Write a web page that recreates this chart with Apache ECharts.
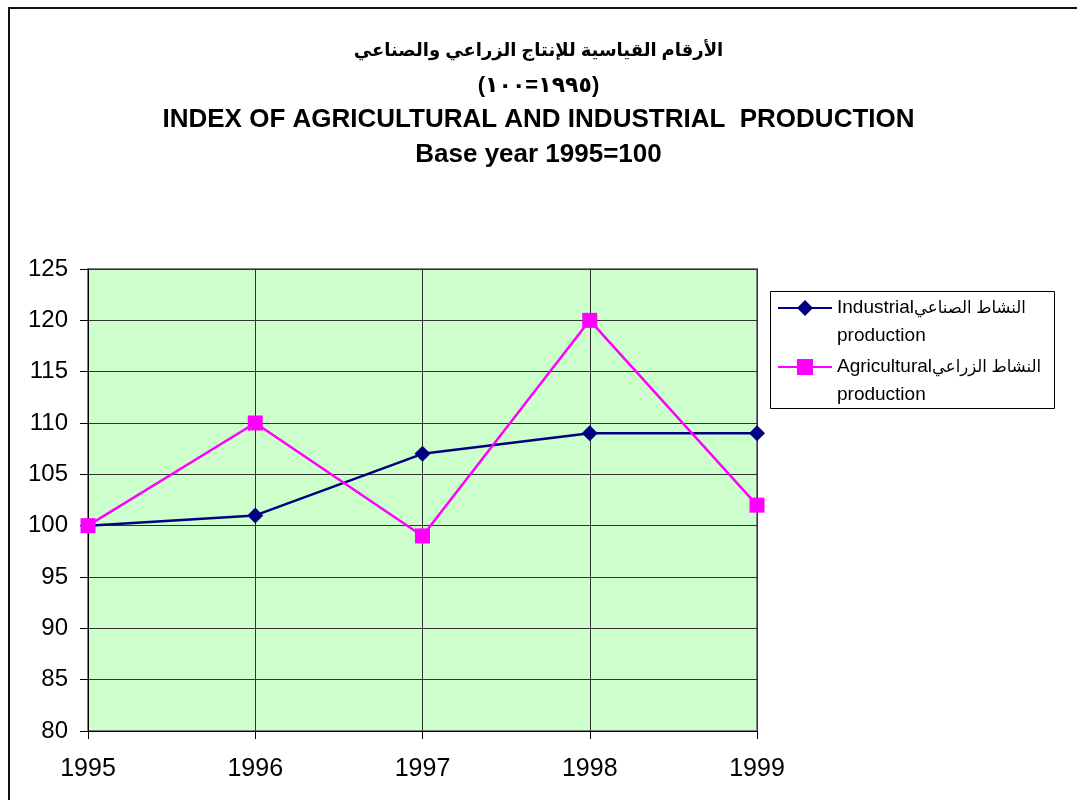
<!DOCTYPE html>
<html>
<head>
<meta charset="utf-8">
<script src="https://cdn.jsdelivr.net/npm/echarts@6/dist/echarts.min.js"></script>
<style>
  html, body { margin: 0; padding: 0; background: #fff; }
  #main { width: 1077px; height: 800px; }
</style>
</head>
<body>
<div id="main"></div>
<script>
// chart data
const years = ["1995", "1996", "1997", "1998", "1999"];
const industrial = [100, 101, 107, 109, 109];
const agricultural = [100, 110, 99, 120, 102];
const seriesNames = ["Industrial", "Agricultural"];
const seriesArabic = ["النشاط الصناعي", "النشاط الزراعي"];
const yMin = 80;
const yMax = 125;
const yStep = 5;

const font = "'Liberation Sans', Arial, 'DejaVu Sans', sans-serif";
// force left-to-right order for the arabic digits line
const LRO = "\u202D";
const PDF = "\u202C";

const myChart = echarts.init(document.getElementById("main"));

const config = {
  backgroundColor: "#fff",
  textStyle: { fontFamily: font, color: "#000" },
  title: [
    {
      text: "الأرقام القياسية للإنتاج الزراعي والصناعي",
      left: "center",
      top: 37,
      textStyle: { fontFamily: font, fontSize: 18, fontWeight: "bold", color: "#000" },
    },
    {
      text: LRO + "(١٠٠=١٩٩٥)" + PDF,
      left: "center",
      top: 70,
      textStyle: { fontFamily: font, fontSize: 22, fontWeight: "bold", color: "#000" },
    },
    {
      text: "INDEX OF AGRICULTURAL AND INDUSTRIAL  PRODUCTION",
      left: "center",
      top: 102,
      textStyle: { fontFamily: font, fontSize: 26, fontWeight: "bold", color: "#000" },
    },
    {
      text: "Base year 1995=100",
      left: "center",
      top: 137,
      textStyle: { fontFamily: font, fontSize: 26, fontWeight: "bold", color: "#000" },
    },
  ],
  legend: {
    orient: "vertical",
    left: 777,
    top: 266,
    itemWidth: 54,
    itemHeight: 20,
    itemGap: -25,
    padding: 0,
    data: seriesNames,
    formatter: function (name) {
      const i = seriesNames.indexOf(name);
      return "{en|" + name + "}{ar|" + seriesArabic[i] + "}\n{en|production}";
    },
    textStyle: {
      fontFamily: font,
      fontSize: 19,
      color: "#000",
      lineHeight: 28,
      padding: [28, 0, 0, 0],
      rich: {
        en: { fontFamily: font, fontSize: 19, lineHeight: 28, color: "#000" },
        ar: { fontFamily: font, fontSize: 16.5, lineHeight: 28, color: "#000" },
      },
    },
  },
  graphic: [
    {
      type: "rect",
      silent: true,
      shape: { x: 9, y: 8, width: 1200, height: 900 },
      style: { fill: null, stroke: "#111", lineWidth: 2 },
    },
    {
      type: "rect",
      silent: true,
      shape: { x: 770.5, y: 291.5, width: 284, height: 117 },
      style: { fill: null, stroke: "#000", lineWidth: 1 },
    },
  ],
  grid: {
    left: 88,
    right: 320,
    top: 269,
    bottom: 69,
    show: true,
    backgroundColor: "#CCFFCC",
    borderColor: "#808080",
    borderWidth: 2,
  },
  xAxis: {
    type: "category",
    data: years,
    boundaryGap: false,
    axisLine: { lineStyle: { color: "#000", width: 1 } },
    axisTick: { show: true, length: 8, lineStyle: { color: "#000" }, alignWithLabel: true },
    axisLabel: { fontFamily: font, fontSize: 25, color: "#000", margin: 26 },
    splitLine: { show: true, lineStyle: { color: "#333", width: 1 } },
  },
  yAxis: {
    type: "value",
    min: yMin,
    max: yMax,
    interval: yStep,
    axisLine: { show: true, lineStyle: { color: "#000", width: 1 } },
    axisTick: { show: true, length: 8, lineStyle: { color: "#000" } },
    axisLabel: { fontFamily: font, fontSize: 24, color: "#000", margin: 20 },
    splitLine: { show: true, lineStyle: { color: "#333", width: 1 } },
  },
  series: [
    {
      name: seriesNames[0],
      type: "line",
      data: industrial,
      symbol: "diamond",
      symbolSize: 16,
      lineStyle: { color: "#000080", width: 2.5 },
      itemStyle: { color: "#000080" },
      z: 3,
    },
    {
      name: seriesNames[1],
      type: "line",
      data: agricultural,
      symbol: "rect",
      symbolSize: 15,
      lineStyle: { color: "#FF00FF", width: 2.5 },
      itemStyle: { color: "#FF00FF" },
      z: 4,
    },
  ],
};

myChart.setOption(config);
</script>
</body>
</html>
